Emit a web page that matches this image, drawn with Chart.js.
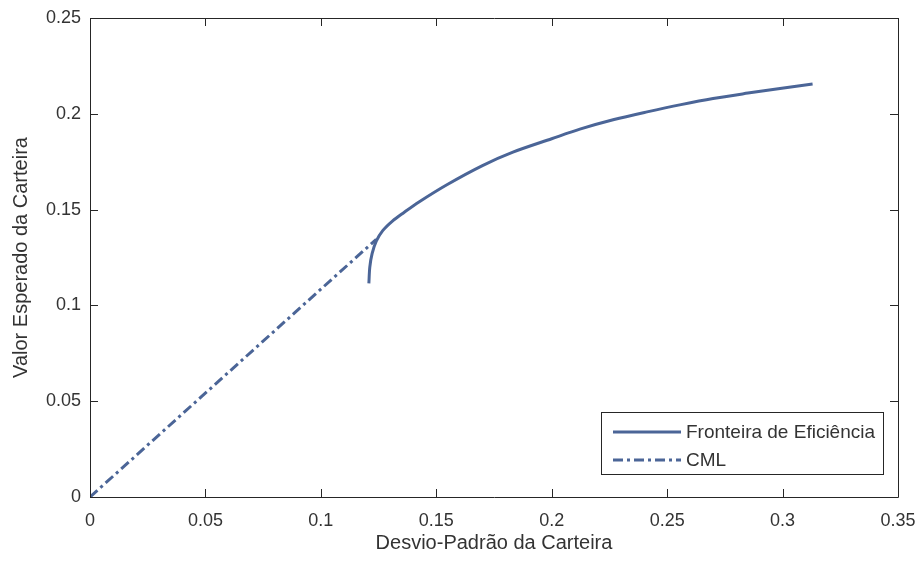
<!DOCTYPE html>
<html>
<head>
<meta charset="utf-8">
<script src="https://cdn.jsdelivr.net/npm/chart.js@4.4.1/dist/chart.umd.min.js"></script>
<style>
  html, body { margin: 0; padding: 0; background: #fff; }
  #wrap { width: 919px; height: 563px; }
</style>
</head>
<body>
<div id="wrap"><canvas id="grafico" width="919" height="563"></canvas></div>
<script>
// valores
const fronteiraX = [0.1208, 0.1212, 0.1222, 0.1240, 0.1268, 0.1310, 0.1360, 0.1425, 0.1546, 0.1700,
                    0.1832, 0.2000, 0.2122, 0.2270, 0.2413, 0.2560, 0.2699, 0.2850, 0.2989, 0.3130];
const fronteiraY = [0.1115, 0.1200, 0.1270, 0.1335, 0.1390, 0.1440, 0.1485, 0.1540, 0.1630, 0.1730,
                    0.1800, 0.1870, 0.1920, 0.1970, 0.2010, 0.2048, 0.2080, 0.2108, 0.2132, 0.2155];
const cmlX = [0, 0.1240];
const cmlY = [0, 0.1345];
const xTicks = [0, 0.05, 0.1, 0.15, 0.2, 0.25, 0.3, 0.35];
const yTicks = [0, 0.05, 0.1, 0.15, 0.2, 0.25];
const rotulos = ['Fronteira de Eficiência', 'CML'];

const corLinha = '#4b6597';
const corEixo = '#262626';
const corTexto = '#333333';
const fonte = '"Liberation Sans", Arial, sans-serif';

Chart.defaults.font.family = fonte;
Chart.defaults.color = corTexto;

const pontos = (xs, ys) => xs.map((x, i) => ({ x: x, y: ys[i] }));

// eixos estilo MATLAB: caixa fechada e ticks para dentro
const eixosMatlab = {
    id: 'eixosMatlab',
    afterDatasetsDraw(chart) {
        const { ctx, chartArea: a, scales: { x, y } } = chart;
        const tam = 8;
        ctx.save();
        ctx.strokeStyle = corEixo;
        ctx.lineWidth = 1;
        ctx.beginPath();
        ctx.rect(Math.round(a.left) + 0.5, Math.round(a.top) + 0.5,
                 Math.round(a.right - a.left), Math.round(a.bottom - a.top));
        x.ticks.forEach(t => {
            const px = Math.round(x.getPixelForValue(t.value)) + 0.5;
            ctx.moveTo(px, a.bottom); ctx.lineTo(px, a.bottom - tam);
            ctx.moveTo(px, a.top); ctx.lineTo(px, a.top + tam);
        });
        y.ticks.forEach(t => {
            const py = Math.round(y.getPixelForValue(t.value)) + 0.5;
            ctx.moveTo(a.left, py); ctx.lineTo(a.left + tam, py);
            ctx.moveTo(a.right, py); ctx.lineTo(a.right - tam, py);
        });
        ctx.stroke();
        ctx.restore();
    },
    afterDraw(chart) {
        // legenda no canto inferior direito
        const { ctx, chartArea: a } = chart;
        ctx.save();
        ctx.font = '19px ' + fonte;
        const larguraTexto = Math.max(...rotulos.map(r => ctx.measureText(r).width));
        const w = Math.round(12 + 68 + 5 + larguraTexto + 8);
        const h = 62;
        const x0 = Math.round(a.right - 15 - w);
        const y0 = Math.round(a.bottom - 23 - h);
        ctx.fillStyle = '#fff';
        ctx.fillRect(x0, y0, w, h);
        ctx.strokeStyle = corEixo;
        ctx.lineWidth = 1;
        ctx.strokeRect(x0 + 0.5, y0 + 0.5, w, h);
        chart.data.datasets.forEach((ds, i) => {
            const yy = y0 + 20 + i * 28;
            ctx.strokeStyle = ds.borderColor;
            ctx.lineWidth = ds.borderWidth;
            ctx.setLineDash(ds.borderDash || []);
            ctx.beginPath();
            ctx.moveTo(x0 + 12, yy);
            ctx.lineTo(x0 + 80, yy);
            ctx.stroke();
            ctx.setLineDash([]);
            ctx.fillStyle = corTexto;
            ctx.textBaseline = 'middle';
            ctx.fillText(ds.label, x0 + 85, yy + 1);
        });
        ctx.restore();
    }
};

new Chart(document.getElementById('grafico'), {
    type: 'line',
    data: {
        datasets: [
            {
                label: rotulos[0],
                data: pontos(fronteiraX, fronteiraY),
                borderColor: corLinha,
                borderWidth: 3,
                pointRadius: 0,
                tension: 0.3,
                fill: false
            },
            {
                label: rotulos[1],
                data: pontos(cmlX, cmlY),
                borderColor: corLinha,
                borderWidth: 3,
                borderDash: [10, 4, 3, 4],
                pointRadius: 0,
                fill: false
            }
        ]
    },
    options: {
        responsive: false,
        animation: false,
        devicePixelRatio: 1,
        layout: { padding: { left: 0, top: 18, right: 21, bottom: 0 } },
        plugins: {
            legend: { display: false },
            tooltip: { enabled: false }
        },
        scales: {
            x: {
                type: 'linear',
                min: 0,
                max: 0.35,
                afterBuildTicks: s => { s.ticks = xTicks.map(v => ({ value: v })); },
                afterFit: s => { s.height = 66; s.paddingLeft = 0; s.paddingRight = 0; },
                grid: { display: false, drawTicks: false },
                border: { display: false },
                ticks: {
                    padding: 13,
                    maxRotation: 0,
                    font: { size: 18 },
                    callback: v => String(v)
                },
                title: {
                    display: true,
                    text: 'Desvio-Padrão da Carteira',
                    font: { size: 20 },
                    padding: { top: 0, bottom: 8 }
                }
            },
            y: {
                type: 'linear',
                min: 0,
                max: 0.25,
                afterBuildTicks: s => { s.ticks = yTicks.map(v => ({ value: v })); },
                afterFit: s => { s.width = 90; s.paddingTop = 0; s.paddingBottom = 0; },
                grid: { display: false, drawTicks: false },
                border: { display: false },
                ticks: {
                    padding: 9,
                    font: { size: 18 },
                    callback: v => String(v)
                },
                title: {
                    display: true,
                    text: 'Valor Esperado da Carteira',
                    font: { size: 20 },
                    padding: { top: 9, bottom: 0 }
                }
            }
        }
    },
    plugins: [eixosMatlab]
});
</script>
</body>
</html>
